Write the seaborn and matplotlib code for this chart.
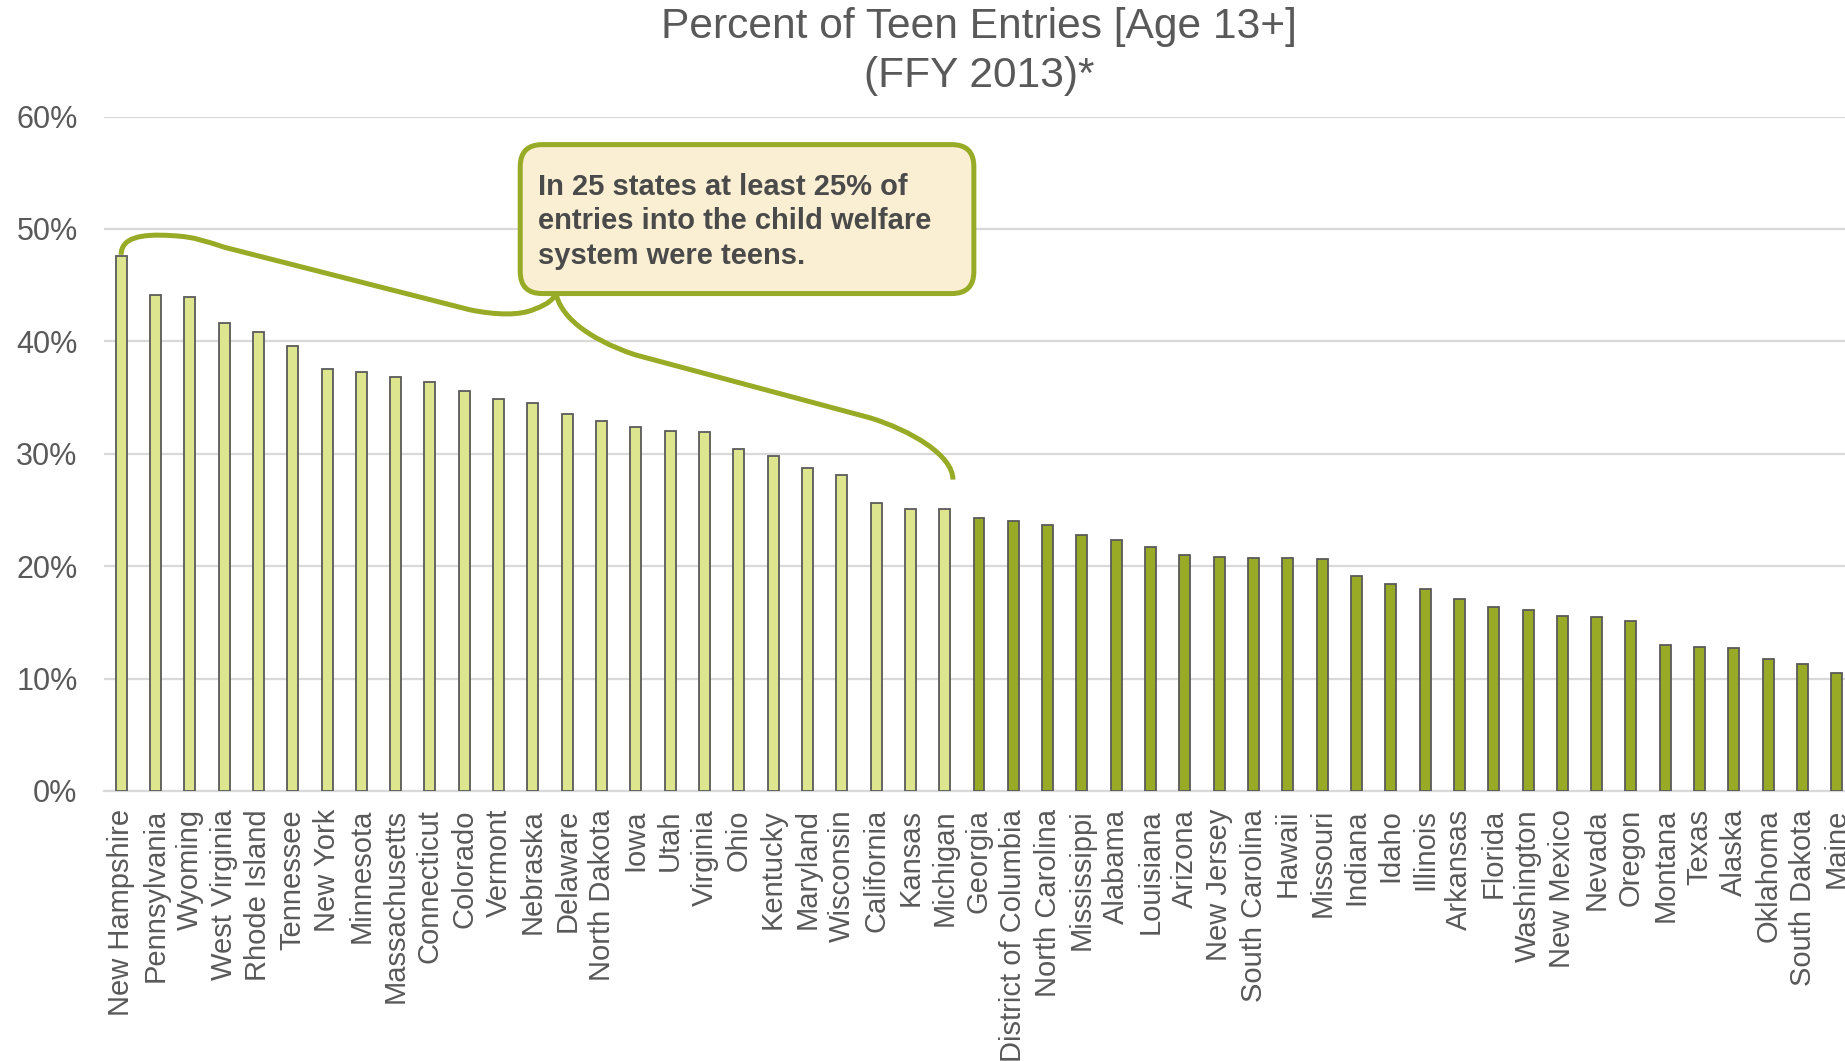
import matplotlib
matplotlib.use("Agg")
import matplotlib.pyplot as plt
import seaborn as sns
import pandas as pd
import numpy as np
from matplotlib.patches import FancyBboxPatch, PathPatch
from matplotlib.path import Path

states = ["New Hampshire", "Pennsylvania", "Wyoming", "West Virginia", "Rhode Island",
          "Tennessee", "New York", "Minnesota", "Massachusetts", "Connecticut",
          "Colorado", "Vermont", "Nebraska", "Delaware", "North Dakota", "Iowa", "Utah",
          "Virginia", "Ohio", "Kentucky", "Maryland", "Wisconsin", "California", "Kansas",
          "Michigan", "Georgia", "District of Columbia", "North Carolina", "Mississippi",
          "Alabama", "Louisiana", "Arizona", "New Jersey", "South Carolina", "Hawaii",
          "Missouri", "Indiana", "Idaho", "Illinois", "Arkansas", "Florida", "Washington",
          "New Mexico", "Nevada", "Oregon", "Montana", "Texas", "Alaska", "Oklahoma",
          "South Dakota", "Maine"]
pct_teen = [47.6, 44.1, 43.9, 41.6, 40.8, 39.6, 37.5, 37.3, 36.8, 36.4,
            35.6, 34.9, 34.5, 33.5, 32.9, 32.4, 32.0, 31.9, 30.4, 29.8,
            28.7, 28.1, 25.6, 25.1, 25.1, 24.3, 24.0, 23.7, 22.8, 22.3,
            21.7, 21.0, 20.8, 20.7, 20.7, 20.6, 19.1, 18.4, 18.0, 17.1,
            16.4, 16.1, 15.6, 15.5, 15.1, 13.0, 12.8, 12.7, 11.7, 11.3, 10.5]
group = ["25% or more" if v >= 25 else "under 25%" for v in pct_teen]
yticks = [0, 10, 20, 30, 40, 50, 60]
title = "Percent of Teen Entries [Age 13+]\n(FFY 2013)*"
note = "In 25 states at least 25% of\nentries into the child welfare\nsystem were teens."

LIGHT = "#DDE68F"
DARK = "#98AA26"
EDGE = "#5A5A5A"
GRID = "#D9D9D9"
TXT = "#595959"

df = pd.DataFrame({"state": states, "pct": pct_teen, "group": group})

sns.set_theme(style="white")
plt.rcParams["font.family"] = ["Liberation Sans", "DejaVu Sans"]

W, H = 1845, 1061
fig = plt.figure(figsize=(W / 100, H / 100), dpi=100)
ax_left, ax_right = 104, 1854
ax_bottom, ax_top = 791, 116.5
ax = fig.add_axes([ax_left / W, 1 - ax_bottom / H, (ax_right - ax_left) / W,
                   (ax_bottom - ax_top) / H])

sns.barplot(data=df, x="state", y="pct", hue="group",
            palette={"25% or more": LIGHT, "under 25%": DARK},
            dodge=False, width=0.32, edgecolor=EDGE, linewidth=1.3,
            saturation=1, legend=False, ax=ax, zorder=3)

ax.set_xlim(-0.5, len(states) - 0.5)
ax.set_ylim(0, 60)
ax.set_yticks(yticks)
ax.set_yticklabels([f"{t}%" for t in yticks])
ax.yaxis.grid(True, color=GRID, linewidth=1.6, zorder=0)
ax.xaxis.grid(False)
ax.set_axisbelow(True)
for s in ["top", "right", "left"]:
    ax.spines[s].set_visible(False)
ax.spines["bottom"].set_color(GRID)
ax.spines["bottom"].set_linewidth(1.6)
ax.set_xlabel("")
ax.set_ylabel("")
ax.tick_params(axis="x", length=0, pad=13, labelsize=21, labelcolor=TXT, rotation=90)
ax.tick_params(axis="y", length=0, pad=19, labelsize=22, labelcolor=TXT)
for lbl in ax.get_xticklabels():
    lbl.set_va("top")
    lbl.set_ha("center")

fig.text((ax_left + (ax_right - ax_left) / 2) / W, 1 - 7 / H, title, ha="center", va="top",
         fontsize=30.6, color=TXT, linespacing=1.3)

# callout box (data coords, aspect-corrected rounding)
px_x = (ax_right - ax_left) / len(states)
px_y = (ax_bottom - ax_top) / 60
aspect = px_x / px_y
bx0, bx1 = 11.63, 24.85
by0, by1 = 44.25, 57.5
box = FancyBboxPatch((bx0, by0), bx1 - bx0, by1 - by0,
                     boxstyle=f"round,pad=0,rounding_size={22 / px_x:.4f}",
                     mutation_aspect=aspect,
                     facecolor="#FAEFD3", edgecolor="#98AB26", linewidth=3.6,
                     zorder=5, clip_on=False)
ax.add_patch(box)
ax.text(bx0 + 18 / px_x, by1 - 28 / px_y, note, ha="left", va="top",
        fontsize=21, fontweight="bold", color="#4A4A4A", linespacing=1.3, zorder=6)

# curly brace connector
verts_left = [(0.0, 47.7), (0.0, 49.2), (0.55, 49.6), (1.49, 49.4),
              (2.16, 49.3), (2.45, 48.9), (3.03, 48.35),
              (10.17, 42.8),
              (10.9, 42.35), (11.63, 42.26), (12.06, 42.88),
              (12.44, 43.3), (12.62, 43.8), (12.67, 44.3)]
codes_left = [Path.MOVETO, Path.CURVE4, Path.CURVE4, Path.CURVE4,
              Path.CURVE4, Path.CURVE4, Path.CURVE4,
              Path.LINETO,
              Path.CURVE4, Path.CURVE4, Path.CURVE4,
              Path.CURVE4, Path.CURVE4, Path.CURVE4]
verts_right = [(12.67, 44.3), (12.79, 42.35), (13.52, 40.3), (14.98, 38.8),
               (21.82, 33.2),
               (22.99, 32.1), (24.24, 29.9), (24.24, 27.7)]
codes_right = [Path.MOVETO, Path.CURVE4, Path.CURVE4, Path.CURVE4,
               Path.LINETO,
               Path.CURVE4, Path.CURVE4, Path.CURVE4]
for v, c in [(verts_left, codes_left), (verts_right, codes_right)]:
    ax.add_patch(PathPatch(Path(v, c), facecolor="none", edgecolor="#98AB26",
                           linewidth=3.6, zorder=4, capstyle="butt", clip_on=False))

fig.savefig("out.png", dpi=100)
